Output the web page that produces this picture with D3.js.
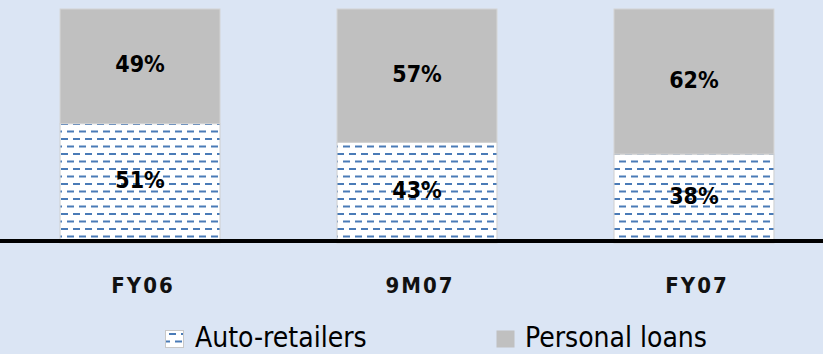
<!DOCTYPE html>
<html><head><meta charset="utf-8">
<script src="https://cdn.jsdelivr.net/npm/d3@7"></script>
<style>html,body{margin:0;padding:0;background:#dbe5f4;}svg{display:block;}</style>
</head><body>
<script>
const categories = ["FY06", "9M07", "FY07"];
const autoRetailers = [51, 43, 38];
const personalLoans = [49, 57, 62];
const seriesNames = ["Auto-retailers", "Personal loans"];

const W = 823, H = 354;
const svg = d3.select("body").append("svg").attr("width", W).attr("height", H);
svg.append("rect").attr("width", W).attr("height", H).attr("fill", "#dbe5f4");

const defs = svg.append("defs");
const pat = defs.append("pattern").attr("id", "dash").attr("patternUnits", "userSpaceOnUse")
  .attr("width", 12).attr("height", 15);
pat.append("rect").attr("width", 12).attr("height", 15).attr("fill", "#ffffff");
pat.append("line").attr("x1", 1).attr("x2", 8).attr("y1", 4).attr("y2", 4)
  .attr("stroke", "#4a7bb7").attr("stroke-width", 2);
pat.append("line").attr("x1", 7).attr("x2", 14).attr("y1", 11.5).attr("y2", 11.5)
  .attr("stroke", "#4a7bb7").attr("stroke-width", 2);
pat.append("line").attr("x1", -5).attr("x2", 2).attr("y1", 11.5).attr("y2", 11.5)
  .attr("stroke", "#4a7bb7").attr("stroke-width", 2);

const x = d3.scaleBand().domain(categories).range([0, 834]).paddingInner(0.419).paddingOuter(0.215);
const y = d3.scaleLinear().domain([0, 100]).range([243, 9]);

const rows = categories.map((c, i) => ({ c, a: autoRetailers[i], p: personalLoans[i] }));

const g = svg.append("g");
g.selectAll("rect.auto").data(rows).join("rect").attr("class", "auto")
  .attr("x", d => x(d.c) + 0.5).attr("width", x.bandwidth() - 1)
  .attr("y", d => y(d.a)).attr("height", d => y(0) - y(d.a))
  .attr("fill", "url(#dash)").attr("stroke", "#cfcfcf").attr("stroke-width", 1);
g.selectAll("rect.pl").data(rows).join("rect").attr("class", "pl")
  .attr("x", d => x(d.c) + 0.5).attr("width", x.bandwidth() - 1)
  .attr("y", d => y(d.a + d.p)).attr("height", d => y(d.a) - y(d.a + d.p))
  .attr("fill", "#c0c0c0").attr("stroke", "#d4d4d4").attr("stroke-width", 1);

const lblFont = "'DejaVu Sans Condensed', 'DejaVu Sans', sans-serif";
g.selectAll("text.la").data(rows).join("text").attr("class", "la")
  .attr("x", d => x(d.c) + x.bandwidth() / 2)
  .attr("y", d => (y(0) + y(d.a)) / 2 + 5)
  .attr("text-anchor", "middle").attr("font-family", lblFont).attr("font-weight", "bold")
  .attr("font-size", 23).attr("fill", "#000").text(d => d.a + "%");
g.selectAll("text.lp").data(rows).join("text").attr("class", "lp")
  .attr("x", d => x(d.c) + x.bandwidth() / 2)
  .attr("y", d => (y(d.a) + y(d.a + d.p)) / 2 + 6)
  .attr("text-anchor", "middle").attr("font-family", lblFont).attr("font-weight", "bold")
  .attr("font-size", 23).attr("fill", "#000").text(d => d.p + "%");

const axis = svg.append("g").attr("transform", `translate(0,${y(0) - 2})`)
  .call(d3.axisBottom(x).tickSize(0).tickPadding(0));
axis.select(".domain").remove();
axis.append("line").attr("x1", 0).attr("x2", W).attr("y1", 0).attr("y2", 0)
  .attr("stroke", "#000").attr("stroke-width", 4);
axis.selectAll(".tick text").attr("y", 52).attr("dy", 0).attr("dx", 3)
  .attr("font-family", lblFont).attr("font-weight", "bold").attr("font-size", 22)
  .attr("letter-spacing", "2px").attr("fill", "#111");

const leg = svg.append("g");
const legItems = [
  { name: seriesNames[0], fill: "url(#dash)", stroke: "#c8c8c8", bx: 165, tx: 195 },
  { name: seriesNames[1], fill: "#c0c0c0", stroke: "none", bx: 496, tx: 525 }
];
legItems.forEach(it => {
  leg.append("rect").attr("x", it.bx + 0.5).attr("y", 330.5).attr("width", 18).attr("height", 17)
    .attr("fill", it.fill).attr("stroke", it.stroke);
  leg.append("text").attr("x", it.tx).attr("y", 347).attr("font-family", lblFont)
    .attr("font-size", 28).attr("fill", "#000").text(it.name);
});
</script>
</body></html>
